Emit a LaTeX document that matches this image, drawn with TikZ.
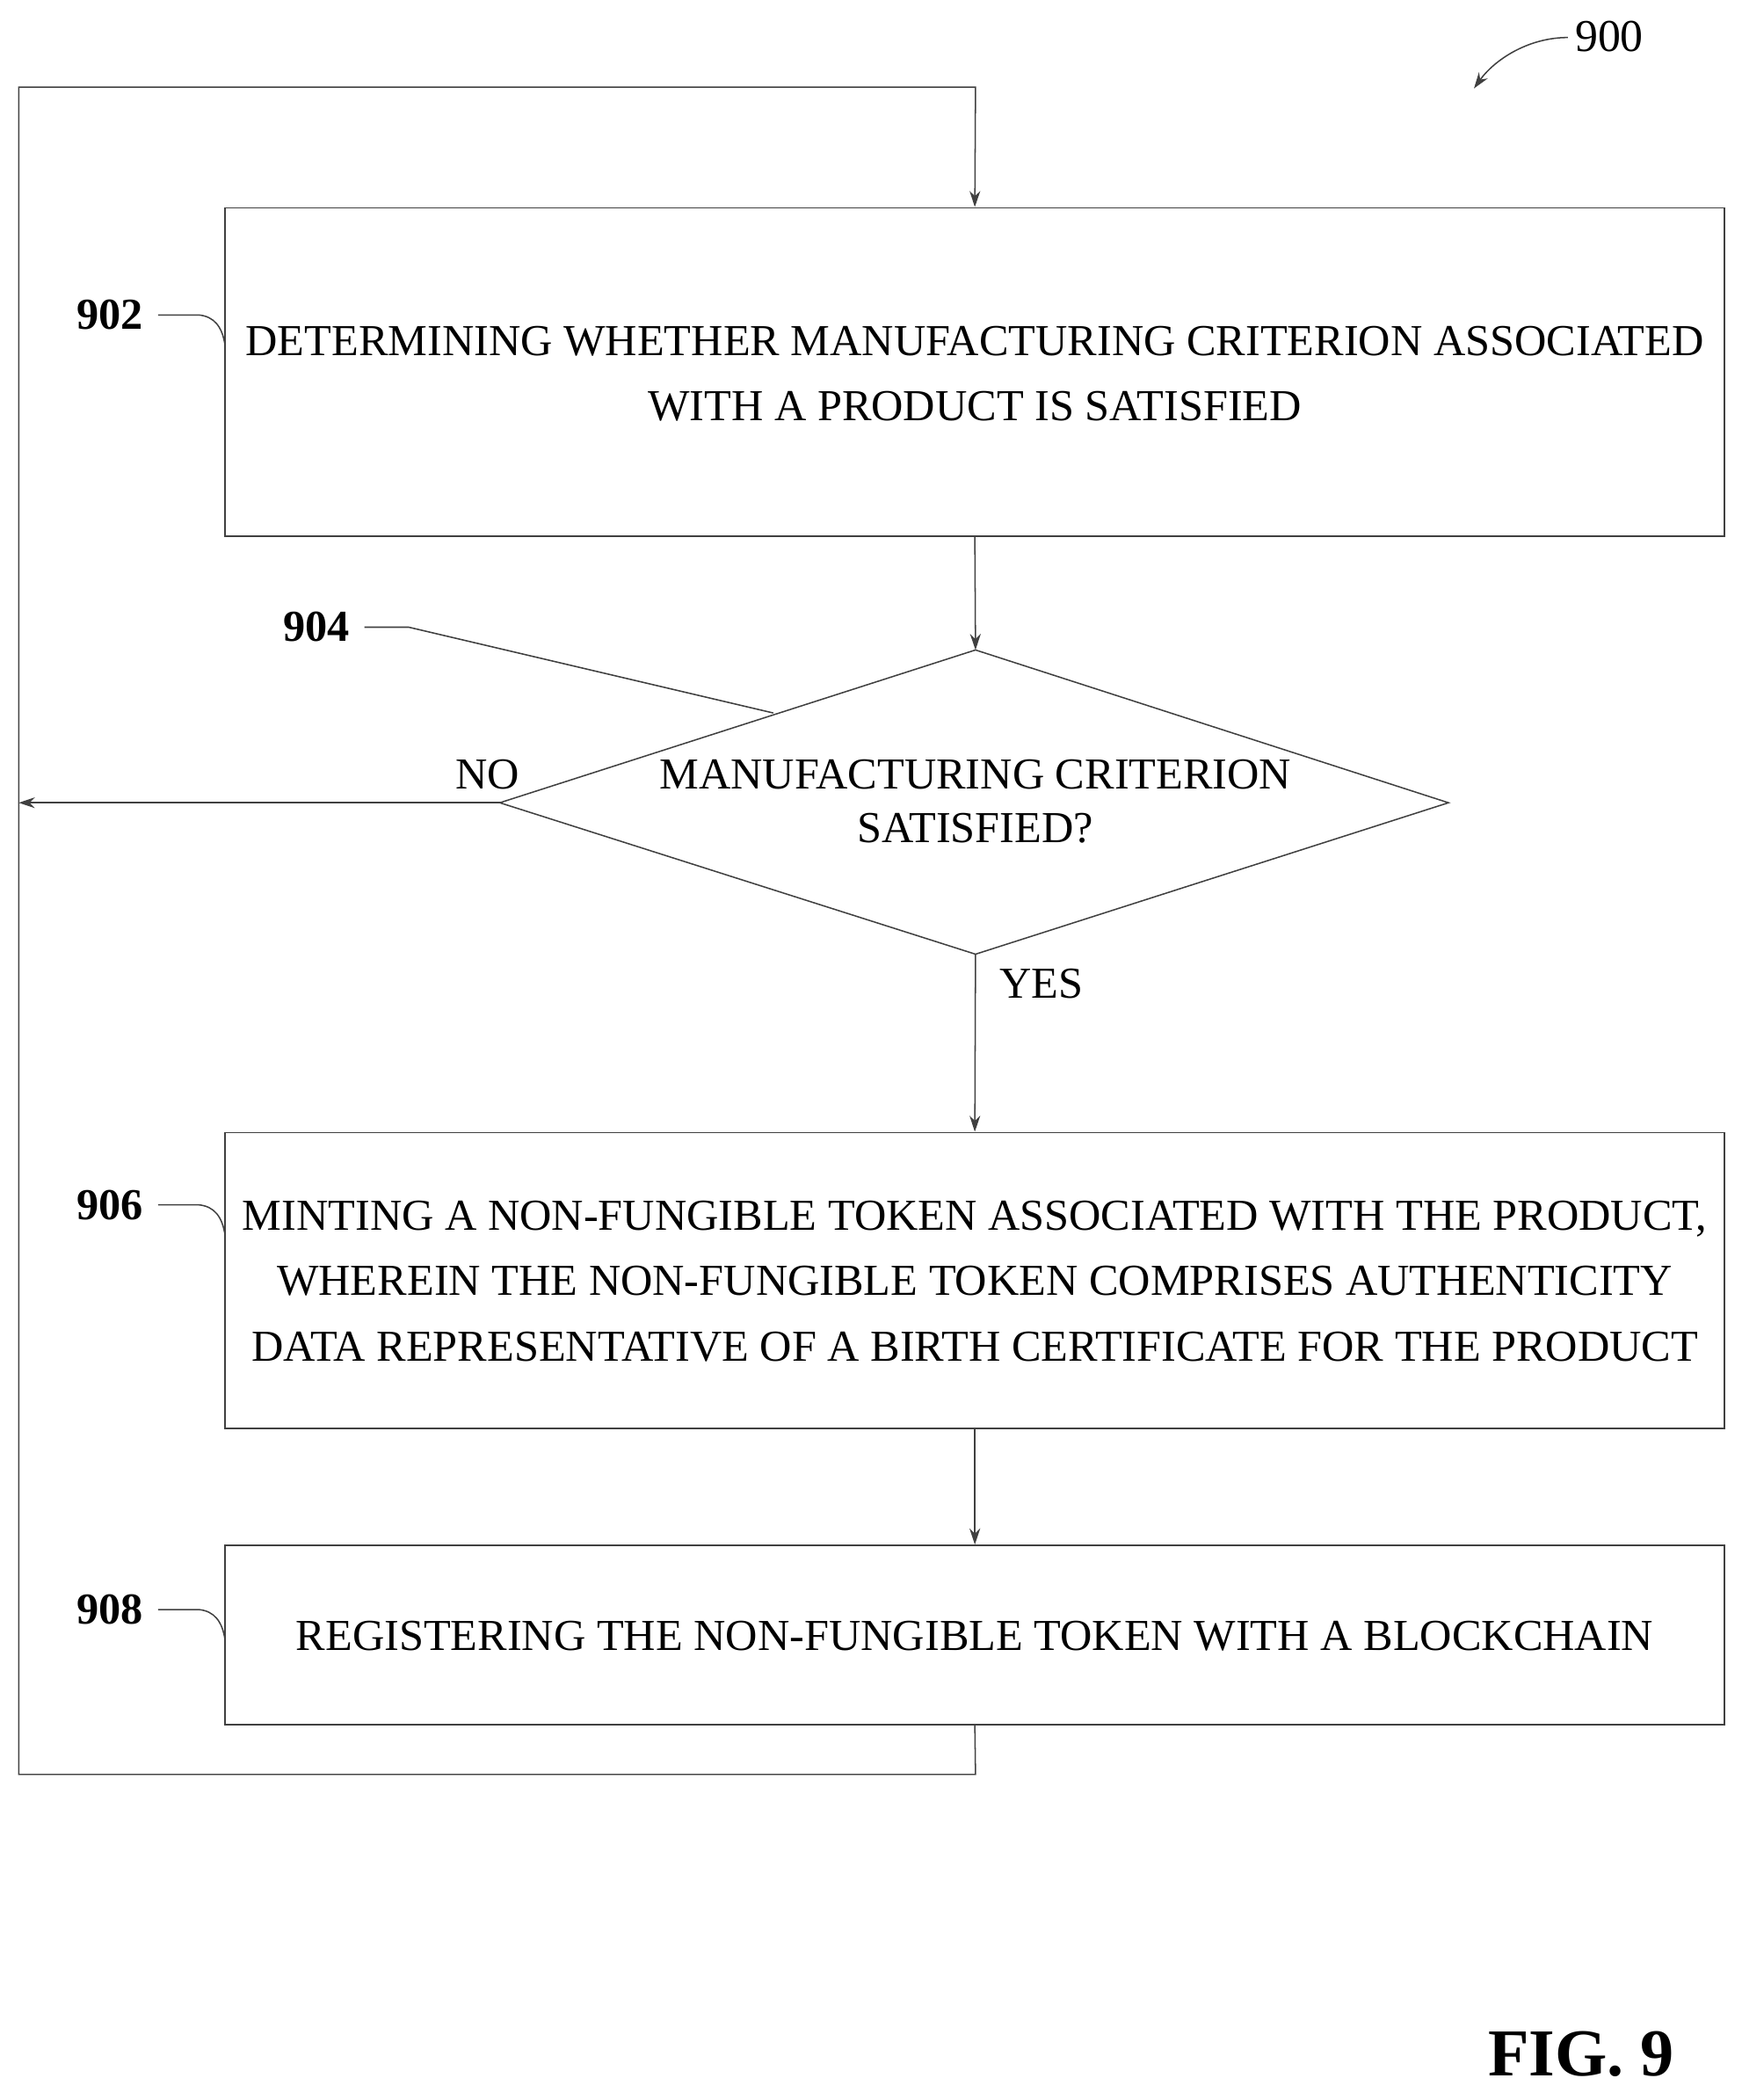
\documentclass[tikz,border=0pt]{standalone}
\usepackage{fontspec}
\setmainfont{Liberation Serif}
\usetikzlibrary{arrows.meta}
\begin{document}
\begin{tikzpicture}[x=0.5pt,y=-0.5pt,
  ln/.style={draw=black!75,line width=0.5pt},
  ar/.style={ln,-{Stealth[length=6pt,width=4pt]}},
  txt/.style={font=\fontsize{16.5}{24.5}\selectfont,align=center,inner sep=0},
  lbl/.style={font=\fontsize{16.5}{18}\selectfont\bfseries,inner sep=0}]
\useasboundingbox (0,0) rectangle (1300,1567);
\node[ln,minimum width=559.5pt,minimum height=122.5pt,inner sep=0] (b902) at (727.5,277.5) {};
\node[txt] at (727.5,279) {DETERMINING WHETHER MANUFACTURING CRITERION ASSOCIATED\\WITH A PRODUCT IS SATISFIED};
\coordinate (dt) at (728,485); \coordinate (dl) at (373,599);
\coordinate (dr) at (1081,599); \coordinate (db) at (728,712);
\draw[ln] (dt)--(dr)--(db)--(dl)--cycle;
\node[txt,font=\fontsize{16.5}{20}\selectfont] (d904) at (728,598) {MANUFACTURING CRITERION\\SATISFIED?};
\node[ln,minimum width=559.5pt,minimum height=110.5pt,inner sep=0] (b906) at (727.5,955.5) {};
\node[txt] at (727.5,956) {MINTING A NON-FUNGIBLE TOKEN ASSOCIATED WITH THE PRODUCT,\\WHEREIN THE NON-FUNGIBLE TOKEN COMPRISES AUTHENTICITY\\DATA REPRESENTATIVE OF A BIRTH CERTIFICATE FOR THE PRODUCT};
\node[ln,minimum width=559.5pt,minimum height=67pt,inner sep=0] (b908) at (727.5,1220) {};
\node[txt] at (727.5,1221) {REGISTERING THE NON-FUNGIBLE TOKEN WITH A BLOCKCHAIN};
\draw[ar] (b902.south) -- (dt);
\draw[ar] (db) -- (b906.north);
\draw[ar] (b906.south) -- (b908.north);
\coordinate (lp) at (14,599);
\draw[ar] (dl) -- (lp);
\draw[ar] (b908.south) -- (728,1324) -- (14,1324) -- (14,65) -- (728,65) -- (b902.north);
\node[txt] at (364,578) {NO};
\node[txt] at (777,734) {YES};
\node[lbl] (l902) at (82,235) {902};
\node[lbl] (l904) at (236,468) {904};
\node[lbl] (l906) at (82,899) {906};
\node[lbl] (l908) at (82,1201) {908};
\draw[ln] (118,235) -- (148,235) .. controls (160,236) and (166,244) .. (168,258);
\draw[ln] (118,899) -- (148,899) .. controls (160,900) and (166,908) .. (168,922);
\draw[ln] (118,1201) -- (148,1201) .. controls (160,1202) and (166,1210) .. (168,1224);
\draw[ln] (272,468) -- (305,468) -- (577,532);
\node[font=\fontsize{17}{18}\selectfont,inner sep=0] (l900) at (1201,27) {900};
\draw[ar] (1170,28) .. controls (1140,28) and (1115,45) .. (1100,66);
\node[font=\fontsize{25}{28}\selectfont\bfseries,inner sep=0] (fig) at (1180,1533) {FIG. 9};
\end{tikzpicture}
\end{document}
